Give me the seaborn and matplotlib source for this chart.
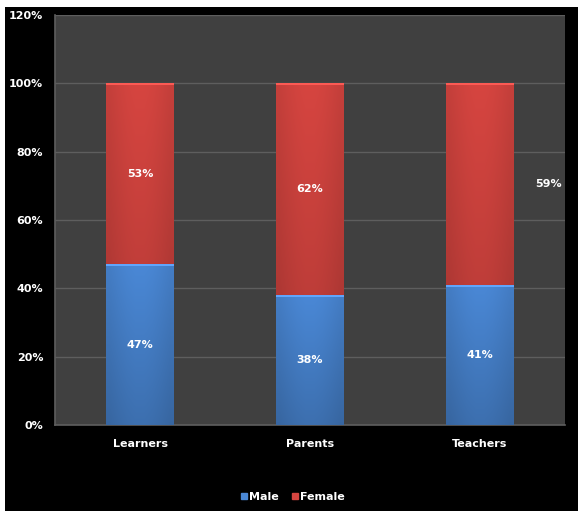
import numpy as np
import pandas as pd
import matplotlib
matplotlib.use("Agg")
import matplotlib.pyplot as plt
from matplotlib.patches import Rectangle
from matplotlib.lines import Line2D
import seaborn as sns

categories = ["Learners", "Parents", "Teachers"]
male = [47, 38, 41]
female = [53, 62, 59]
male_labels = ["47%", "38%", "41%"]
female_labels = ["53%", "62%", "59%"]
yticks = [0, 20, 40, 60, 80, 100, 120]
ytick_labels = ["0%", "20%", "40%", "60%", "80%", "100%", "120%"]

df = pd.DataFrame({"cat": categories, "male": male,
                   "total": [m + f for m, f in zip(male, female)]})

sns.set_style("dark")
plt.rcParams["font.family"] = ["DejaVu Sans"]

W, H = 578, 511
fig = plt.figure(figsize=(W / 100, H / 100), dpi=100)
fig.patch.set_facecolor("white")
fig.add_artist(Rectangle((5 / W, 0), 1 - 5 / W, (H - 7) / H, transform=fig.transFigure,
                         facecolor="black", edgecolor="none", zorder=-10))

ax = fig.add_axes([55 / W, (H - 425) / H, 510 / W, 410 / H])
ax.set_facecolor("#404040")

RED = "#d64540"
BLUE = "#4a88d6"
sns.barplot(data=df, x="cat", y="total", color=RED, saturation=1, width=0.4, ax=ax,
            zorder=3, edgecolor="none", linewidth=0)
sns.barplot(data=df, x="cat", y="male", color=BLUE, saturation=1, width=0.4, ax=ax,
            zorder=4, edgecolor="none", linewidth=0)

# gradient shading on bars
for p in list(ax.patches):
    fc = p.get_facecolor()
    x0, y0 = p.get_x(), p.get_y()
    w, h = p.get_width(), p.get_height()
    base = np.array(fc[:3])
    n = 64
    t = np.linspace(0, 1, n)
    shade = 0.82 + 0.18 * t
    img = base[None, None, :] * shade[:, None, None] * np.ones((n, 8, 3))
    hs = 0.92 + 0.08 * np.sin(np.linspace(0, np.pi, 8))
    img = np.clip(img * hs[None, :, None], 0, 1)
    im = ax.imshow(img, extent=(x0, x0 + w, y0, y0 + h), origin="lower", aspect="auto",
                   zorder=p.get_zorder() + 0.1, interpolation="bilinear")
    im.set_clip_path(p)
    ax.add_patch(Rectangle((x0, y0 + h - 0.6), w, 0.6, facecolor=np.clip(base * 1.12 + 0.05, 0, 1),
                           edgecolor="none", zorder=p.get_zorder() + 0.2))

ax.set_xlim(-0.5, 2.5)
ax.set_ylim(0, 120)
ax.set_yticks(yticks)
ax.set_yticklabels(ytick_labels)
ax.set_xlabel("")
ax.set_ylabel("")
ax.grid(axis="y", color="#5e5e5e", linewidth=1, zorder=1)
ax.grid(axis="x", visible=False)
ax.set_axisbelow(True)
for s in ["top", "right"]:
    ax.spines[s].set_visible(False)
for s in ["left", "bottom"]:
    ax.spines[s].set_visible(True)
    ax.spines[s].set_color("#5e5e5e")
    ax.spines[s].set_linewidth(1.2)
ax.tick_params(axis="both", length=0, colors="white", labelsize=8)
ax.tick_params(axis="y", pad=8.5)
ax.tick_params(axis="x", pad=10)
for lbl in ax.get_xticklabels() + ax.get_yticklabels():
    lbl.set_fontweight("bold")
    lbl.set_color("white")

for i, (m, f) in enumerate(zip(male, female)):
    ax.text(i, m / 2, male_labels[i], ha="center", va="center", color="white",
            fontsize=8, fontweight="bold", zorder=10)
    fx = i if i < 2 else i + 0.4
    ax.text(fx, m + f / 2, female_labels[i], ha="center", va="center", color="white",
            fontsize=8, fontweight="bold", zorder=10)

handles = [Line2D([], [], marker="s", linestyle="none", markersize=5, color=BLUE),
           Line2D([], [], marker="s", linestyle="none", markersize=5, color=RED)]
leg = fig.legend(handles, ["Male", "Female"], loc="center", bbox_to_anchor=(292 / W, (H - 497) / H),
                 ncol=2, frameon=False, fontsize=8, handletextpad=0.1, columnspacing=1.0,
                 handlelength=0.8)
for t in leg.get_texts():
    t.set_color("white")
    t.set_fontweight("bold")

fig.savefig("out.png", dpi=100, facecolor=fig.get_facecolor())
